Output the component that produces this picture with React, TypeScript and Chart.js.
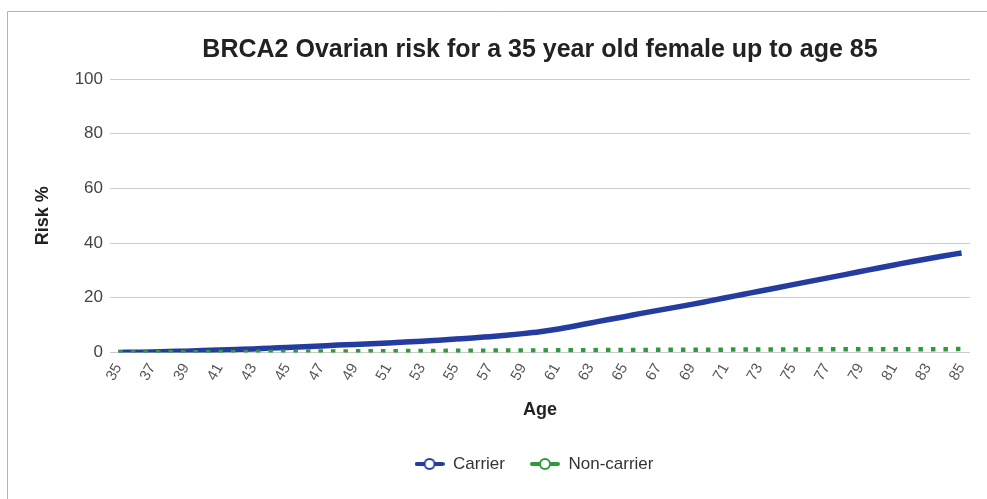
import { useEffect, useRef } from "react";
import { Chart, registerables } from "chart.js";

Chart.register(...registerables);

const chartTitle = "BRCA2 Ovarian risk for a 35 year old female up to age 85";

// Ages 35..85, one point per year
const ages = [
  "35", "36", "37", "38", "39", "40", "41", "42", "43", "44",
  "45", "46", "47", "48", "49", "50", "51", "52", "53", "54",
  "55", "56", "57", "58", "59", "60", "61", "62", "63", "64",
  "65", "66", "67", "68", "69", "70", "71", "72", "73", "74",
  "75", "76", "77", "78", "79", "80", "81", "82", "83", "84",
  "85",
];

// Cumulative risk (%) for a BRCA2 carrier
const carrierRisk = [
  0, 0.1, 0.2, 0.4, 0.5, 0.7, 0.9, 1.1, 1.3, 1.6,
  1.8, 2.1, 2.4, 2.7, 2.9, 3.2, 3.5, 3.8, 4.1, 4.5,
  4.9, 5.3, 5.8, 6.3, 6.9, 7.6, 8.5, 9.6, 10.8, 12.0,
  13.1, 14.3, 15.4, 16.5, 17.6, 18.8, 20.0, 21.2, 22.4, 23.6,
  24.8, 26.0, 27.2, 28.4, 29.6, 30.8, 32.0, 33.2, 34.3, 35.4,
  36.4,
];

// Cumulative risk (%) for a non-carrier
const nonCarrierRisk = [
  0, 0.02, 0.05, 0.07, 0.1, 0.13, 0.16, 0.19, 0.22, 0.25,
  0.28, 0.31, 0.34, 0.38, 0.41, 0.45, 0.48, 0.52, 0.55, 0.58,
  0.62, 0.65, 0.68, 0.71, 0.74, 0.77, 0.8, 0.83, 0.86, 0.89,
  0.92, 0.94, 0.97, 0.99, 1.01, 1.03, 1.05, 1.07, 1.09, 1.11,
  1.13, 1.14, 1.16, 1.17, 1.18, 1.19, 1.2, 1.21, 1.22, 1.23,
  1.24,
];

const riskAxis = { min: 0, max: 100, step: 20 };

const CARRIER_COLOR = "#243c9f";
const NON_CARRIER_COLOR = "#2f9a3c";
const FONT = "'Liberation Sans', Arial, sans-serif";

// Legend marker: a short thick line with a hollow circle in the middle
function makeMarker(color: string): HTMLCanvasElement {
  const c = document.createElement("canvas");
  c.width = 30;
  c.height = 14;
  const g = c.getContext("2d")!;
  g.strokeStyle = color;
  g.lineWidth = 4;
  g.lineCap = "round";
  g.beginPath();
  g.moveTo(2, 7);
  g.lineTo(28, 7);
  g.stroke();
  g.beginPath();
  g.arc(15, 7, 5, 0, Math.PI * 2);
  g.fillStyle = "#ffffff";
  g.fill();
  g.lineWidth = 2;
  g.stroke();
  return c;
}

// White background plus the thin frame along the top and left edges
const framePlugin = {
  id: "frame",
  beforeDraw(chart: any) {
    const { ctx, width, height } = chart;
    ctx.save();
    ctx.fillStyle = "#ffffff";
    ctx.fillRect(0, 0, width, height);
    ctx.strokeStyle = "#b4b4b4";
    ctx.lineWidth = 1;
    ctx.beginPath();
    ctx.moveTo(7.5, height);
    ctx.lineTo(7.5, 11.5);
    ctx.lineTo(width, 11.5);
    ctx.stroke();
    ctx.restore();
  },
};

// Nudge the legend row slightly left of the plot-area centre
const legendShiftPlugin = {
  id: "legendShift",
  afterLayout(chart: any) {
    const lg = chart.legend;
    if (lg) {
      lg.left -= 6;
      lg.right -= 6;
    }
  },
};

export default function App() {
  const canvasRef = useRef<HTMLCanvasElement | null>(null);

  useEffect(() => {
    if (!canvasRef.current) return;
    const markers = [makeMarker(CARRIER_COLOR), makeMarker(NON_CARRIER_COLOR)];

    const chart = new Chart(canvasRef.current, {
      type: "line",
      data: {
        labels: ages,
        datasets: [
          {
            label: "Carrier",
            data: carrierRisk,
            borderColor: CARRIER_COLOR,
            backgroundColor: CARRIER_COLOR,
            borderWidth: 5.5,
            pointRadius: 0,
            cubicInterpolationMode: "monotone",
            order: 1,
          },
          {
            label: "Non-carrier",
            data: nonCarrierRisk,
            borderColor: NON_CARRIER_COLOR,
            backgroundColor: NON_CARRIER_COLOR,
            borderWidth: 4.5,
            borderDash: [4.5, 8],
            borderCapStyle: "butt",
            pointRadius: 0,
            cubicInterpolationMode: "monotone",
            order: 0,
          },
        ],
      },
      options: {
        responsive: true,
        maintainAspectRatio: false,
        animation: false,
        events: [],
        layout: { padding: { left: 0, right: 17, top: 0, bottom: 16.5 } },
        plugins: {
          tooltip: { enabled: false },
          title: {
            display: true,
            text: chartTitle,
            fullSize: false,
            color: "#222222",
            font: { family: FONT, size: 25, weight: "bold" },
            padding: { top: 35, bottom: 14 },
          },
          legend: {
            display: true,
            position: "bottom",
            fullSize: false,
            labels: {
              usePointStyle: true,
              pointStyleWidth: 30,
              padding: 25,
              color: "#333333",
              font: { family: FONT, size: 17 },
              sort: (a: any, b: any) => a.datasetIndex - b.datasetIndex,
              generateLabels: (ch: any) =>
                ch.data.datasets.map((ds: any, i: number) => ({
                  text: ds.label,
                  datasetIndex: i,
                  pointStyle: markers[i],
                  fillStyle: ds.borderColor,
                  strokeStyle: ds.borderColor,
                  lineWidth: 0,
                  hidden: false,
                  fontColor: "#333333",
                })),
            },
          },
        },
        scales: {
          x: {
            type: "category",
            offset: true,
            grid: { display: false, drawTicks: false },
            border: { display: false },
            afterFit: (scale: any) => {
              scale.height = 78;
            },
            ticks: {
              autoSkip: false,
              minRotation: 60,
              maxRotation: 60,
              padding: 8,
              color: "#555555",
              font: { family: FONT, size: 15 },
              callback: (_v: any, i: number) => (i % 2 === 0 ? ages[i] : ""),
            },
            title: {
              display: true,
              text: "Age",
              color: "#222222",
              font: { family: FONT, size: 18, weight: "bold" },
              padding: { top: 0, bottom: 9.7 },
            },
          },
          y: {
            min: riskAxis.min,
            max: riskAxis.max,
            afterFit: (scale: any) => {
              scale.width = 110;
            },
            grid: { color: "#cccccc", drawTicks: false, lineWidth: 1 },
            border: { display: false },
            ticks: {
              stepSize: riskAxis.step,
              padding: 7,
              color: "#444444",
              font: { family: FONT, size: 17 },
            },
            title: {
              display: true,
              text: "Risk %",
              color: "#222222",
              font: { family: FONT, size: 18, weight: "bold" },
              padding: { top: 32, bottom: 0 },
            },
          },
        },
      },
      plugins: [framePlugin, legendShiftPlugin],
    });

    return () => chart.destroy();
  }, []);

  return (
    <div style={{ position: "absolute", left: 0, top: 0, width: 987, height: 499 }}>
      <canvas ref={canvasRef} />
    </div>
  );
}
